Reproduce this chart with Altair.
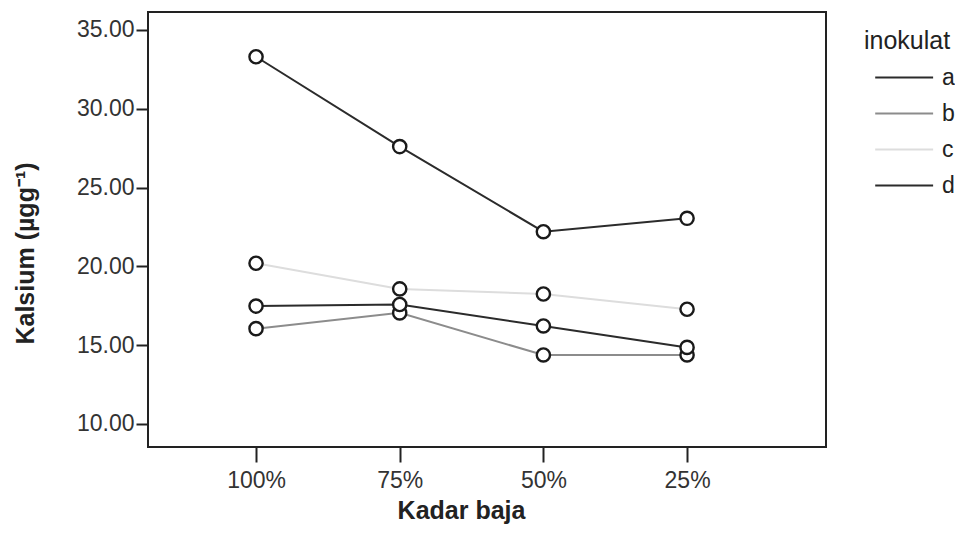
import json
import altair as alt
import pandas as pd

kadar = ["100%", "75%", "50%", "25%"]
inokulat = ["a", "b", "c", "d"]
kalsium_a = [33.3, 27.6, 22.2, 23.05]
kalsium_b = [16.05, 17.05, 14.38, 14.38]
kalsium_c = [20.2, 18.57, 18.25, 17.28]
kalsium_d = [17.48, 17.58, 16.22, 14.86]
line_colors = ["#2b2b2b", "#8c8c8c", "#dddddd", "#2b2b2b"]
y_ticks = [10, 15, 20, 25, 30, 35]

rows = []
for s, vals in zip(inokulat, [kalsium_a, kalsium_b, kalsium_c, kalsium_d]):
    for i, (k, v) in enumerate(zip(kadar, vals)):
        rows.append({"inokulat": s, "kadar": k, "idx": i, "kalsium": v})
df = pd.DataFrame(rows)

FONT = "Liberation Sans"
label_expr = json.dumps(kadar) + "[datum.value]"

x = alt.X(
    "idx:Q",
    scale=alt.Scale(domain=[-0.752, 3.967], nice=False, zero=False),
    axis=alt.Axis(
        values=[0, 1, 2, 3], labelExpr=label_expr, title="Kadar baja",
        grid=False, domain=False, tickSize=15, tickWidth=2, tickColor="#222",
        labelFontSize=23, labelPadding=7, labelColor="#333", labelFont=FONT,
        titleFontSize=25, titleFont=FONT, titleFontWeight="bold", titleColor="#222",
        titlePadding=6, titleX=313,
    ),
)
y = alt.Y(
    "kalsium:Q",
    scale=alt.Scale(domain=[8.54, 36.14], nice=False, zero=False),
    axis=alt.Axis(
        values=y_ticks, format=".2f", title="Kalsium (µgg⁻¹)",
        grid=False, domain=False, tickSize=12, tickWidth=2, tickColor="#222",
        labelFontSize=23, labelPadding=2, labelColor="#333", labelFont=FONT,
        titleFontSize=25, titleFont=FONT, titleFontWeight="bold", titleColor="#222",
        titlePadding=38, titleY=241,
    ),
)

base = alt.Chart(df)

lines = base.mark_line(strokeWidth=2).encode(
    x=x, y=y,
    color=alt.Color(
        "inokulat:N",
        scale=alt.Scale(domain=inokulat, range=line_colors),
        legend=alt.Legend(
            title="inokulat", orient="none", legendX=716, legendY=17,
            symbolType="M-0.55,0H2.04", symbolSize=2000, symbolStrokeWidth=2,
            symbolFillColor="transparent",
            labelFontSize=23, labelFont=FONT, labelColor="#222", labelOffset=31,
            titleFontSize=25, titleFont=FONT, titleFontWeight="normal", titleColor="#222",
            titlePadding=0, rowPadding=0, padding=0,
        ),
    ),
    detail="inokulat:N",
)

points = base.mark_point(
    shape="circle", filled=True, fill="white", stroke="#1a1a1a",
    strokeWidth=2.4, size=175, opacity=1,
).encode(x=x, y=y, detail="inokulat:N")

chart = (
    alt.layer(lines, points)
    .properties(
        width=678, height=435,
        autosize=alt.AutoSizeParams(type="none"),
        padding={"left": 140, "top": 4, "right": 129, "bottom": 79},
        background="white",
    )
    .configure_view(stroke="#222", strokeWidth=2)
)

chart.save("out.html", embed_options={"renderer": "svg", "actions": False})
